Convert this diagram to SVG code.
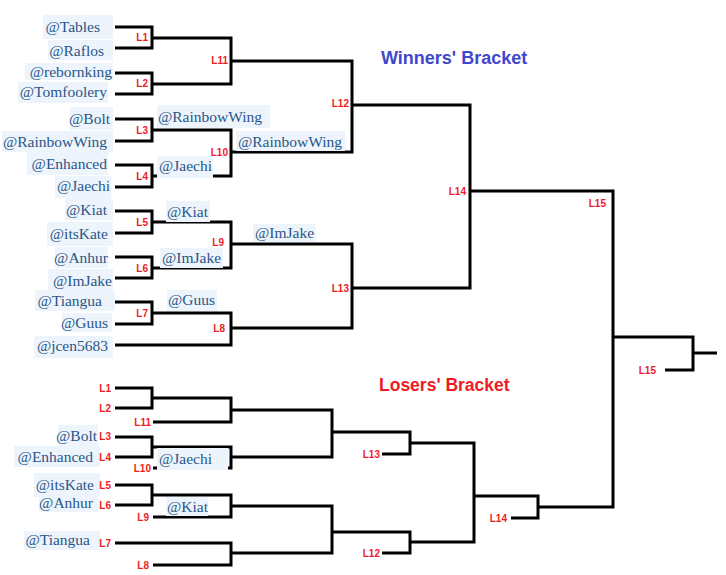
<svg xmlns="http://www.w3.org/2000/svg" width="726" height="575" viewBox="0 0 726 575">
<style>
.bg{fill:#edf4fb}
.n{font-family:"Liberation Serif","Times New Roman",serif;font-size:15.5px;fill:#29568a}
.e{text-anchor:end}
.l{font-family:"Liberation Sans",Arial,sans-serif;font-size:10px;font-weight:bold;fill:#ee1c24;text-anchor:end}
.w{stroke:#000;stroke-width:3;fill:none;stroke-linejoin:miter;stroke-linecap:butt}
.t{font-family:"Liberation Sans",Arial,sans-serif;font-weight:bold;font-size:18px}
</style>
<rect width="726" height="575" fill="#fff"/>

<g id="titles">
<text class="t" x="381" y="64" fill="#3f48cc">Winners' Bracket</text>
<text class="t" x="379" y="391" fill="#ed1c24" style="font-size:17.5px">Losers' Bracket</text>
</g>

<g id="connectors" class="w">
<path d="M115 27H152V48H115"/>
<path d="M115 73H152V94H115"/>
<path d="M152 38H231V84H152"/>
<path d="M231 61H352V152H231"/>
<path d="M115 119H152V141H115"/>
<path d="M115 165H152V187H115"/>
<path d="M152 130H231V176H152"/>
<path d="M352 105H470V288H352"/>
<path d="M115 211H152V233H115"/>
<path d="M115 257H152V278H115"/>
<path d="M152 222H231V268H152"/>
<path d="M231 244H352V328H231"/>
<path d="M115 302H152V324H115"/>
<path d="M152 313H231V345H115"/>
<path d="M470 191H613V507H538"/>
<path d="M613 337H693V370H665"/>
<path d="M693 353H717"/>
<path d="M115 388H152V408H115"/>
<path d="M152 398H231V422H153"/>
<path d="M231 410H332V457H231"/>
<path d="M115 437H152V457H115"/>
<path d="M152 447H231V468H153"/>
<path d="M332 432H410V454H382"/>
<path d="M410 443H474V542H410"/>
<path d="M115 485H152V505H115"/>
<path d="M152 495H231V517H153"/>
<path d="M231 506H332V553H231"/>
<path d="M115 543H231V565H153"/>
<path d="M332 532H410V553H382"/>
<path d="M474 496H538V518H511"/>
</g>

<g id="winners-names">
<g id="w-tables"><rect class="bg" x="43" y="15" width="70" height="24"/><text class="n e" x="100" y="32">@Tables</text></g>
<g id="w-raflos"><rect class="bg" x="48" y="40" width="65" height="20"/><text class="n e" x="104" y="56">@Raflos</text></g>
<g id="w-rebornking"><rect class="bg" x="25" y="63" width="88" height="17"/><text class="n e" x="112" y="77">@rebornking</text></g>
<g id="w-tomfoolery"><rect class="bg" x="18" y="82" width="90" height="21"/><text class="n e" x="107" y="97">@Tomfoolery</text></g>
<g id="w-bolt"><rect class="bg" x="70" y="107" width="43" height="23"/><text class="n e" x="110" y="124">@Bolt</text></g>
<g id="w-rainbowwing"><rect class="bg" x="2" y="131" width="111" height="21"/><text class="n e" x="107" y="147">@RainbowWing</text></g>
<g id="w-enhanced"><rect class="bg" x="27" y="152" width="81" height="23"/><text class="n e" x="107" y="169">@Enhanced</text></g>
<g id="w-jaechi"><rect class="bg" x="55" y="176" width="56" height="22"/><text class="n e" x="110" y="191">@Jaechi</text></g>
<g id="w-kiat"><rect class="bg" x="65" y="198" width="48" height="22"/><text class="n e" x="107" y="215">@Kiat</text></g>
<g id="w-itskate"><rect class="bg" x="47" y="222" width="66" height="24"/><text class="n e" x="108" y="239">@itsKate</text></g>
<g id="w-anhur"><rect class="bg" x="55" y="247" width="53" height="21"/><text class="n e" x="108" y="263">@Anhur</text></g>
<g id="w-imjake"><rect class="bg" x="48" y="269" width="65" height="23"/><text class="n e" x="112" y="286">@ImJake</text></g>
<g id="w-tiangua"><rect class="bg" x="35" y="290" width="80" height="21"/><text class="n e" x="102" y="306">@Tiangua</text></g>
<g id="w-guus"><rect class="bg" x="62" y="313" width="50" height="19"/><text class="n e" x="108" y="328">@Guus</text></g>
<g id="w-jcen5683"><rect class="bg" x="34" y="336" width="79" height="22"/><text class="n e" x="108" y="351">@jcen5683</text></g>
</g>

<g id="winners-advance">
<g id="a-rainbowwing-1"><rect class="bg" x="157" y="105" width="113" height="23"/><text class="n" x="158" y="122">@RainbowWing</text></g>
<g id="a-jaechi"><rect class="bg" x="157" y="156" width="56" height="22"/><text class="n" x="159" y="171">@Jaechi</text></g>
<g id="a-rainbowwing-2"><rect class="bg" x="236" y="131" width="109" height="20"/><text class="n" x="238" y="147">@RainbowWing</text></g>
<g id="a-kiat"><rect class="bg" x="166" y="201" width="44" height="21"/><text class="n" x="167" y="217">@Kiat</text></g>
<g id="a-imjake-1"><rect class="bg" x="160" y="248" width="63" height="20"/><text class="n" x="162" y="263">@ImJake</text></g>
<g id="a-imjake-2"><rect class="bg" x="253" y="224" width="63" height="18"/><text class="n" x="255" y="238">@ImJake</text></g>
<g id="a-guus"><rect class="bg" x="167" y="290" width="50" height="21"/><text class="n" x="168" y="305">@Guus</text></g>
</g>

<g id="losers-names">
<g id="l-bolt"><rect class="bg" x="58" y="425" width="40" height="22"/><text class="n e" x="97" y="441">@Bolt</text></g>
<g id="l-enhanced"><rect class="bg" x="14" y="446" width="86" height="21"/><text class="n e" x="93" y="462">@Enhanced</text></g>
<g id="l-jaechi"><rect class="bg" x="157" y="448" width="71" height="22"/><text class="n" x="159" y="464">@Jaechi</text></g>
<g id="l-itskate"><rect class="bg" x="34" y="473" width="66" height="24"/><text class="n e" x="94" y="490">@itsKate</text></g>
<g id="l-anhur"><rect class="bg" x="39" y="494" width="59" height="18"/><text class="n e" x="93" y="508">@Anhur</text></g>
<g id="l-kiat"><rect class="bg" x="166" y="497" width="42" height="19"/><text class="n" x="167" y="512">@Kiat</text></g>
<g id="l-tiangua"><rect class="bg" x="24" y="531" width="76" height="19"/><text class="n e" x="90" y="545">@Tiangua</text></g>
</g>

<g id="match-labels">
<text class="l" x="148" y="41">L1</text>
<text class="l" x="148" y="87">L2</text>
<text class="l" x="148" y="134">L3</text>
<text class="l" x="148" y="180">L4</text>
<text class="l" x="148" y="226">L5</text>
<text class="l" x="148" y="272">L6</text>
<text class="l" x="148" y="317">L7</text>
<text class="l" x="228" y="64">L11</text>
<text class="l" x="228" y="156">L10</text>
<text class="l" x="224" y="246">L9</text>
<text class="l" x="225" y="332">L8</text>
<text class="l" x="349" y="107">L12</text>
<text class="l" x="349" y="292">L13</text>
<text class="l" x="466" y="195">L14</text>
<text class="l" x="606" y="207">L15</text>
<text class="l" x="656" y="374">L15</text>
<text class="l" x="111" y="392">L1</text>
<text class="l" x="111" y="412">L2</text>
<text class="l" x="151" y="426">L11</text>
<text class="l" x="111" y="440">L3</text>
<text class="l" x="111" y="461">L4</text>
<text class="l" x="151" y="472">L10</text>
<text class="l" x="111" y="489">L5</text>
<text class="l" x="111" y="509">L6</text>
<text class="l" x="149" y="521">L9</text>
<text class="l" x="111" y="547">L7</text>
<text class="l" x="149" y="569">L8</text>
<text class="l" x="380" y="458">L13</text>
<text class="l" x="380" y="557">L12</text>
<text class="l" x="507" y="522">L14</text>
</g>
</svg>
